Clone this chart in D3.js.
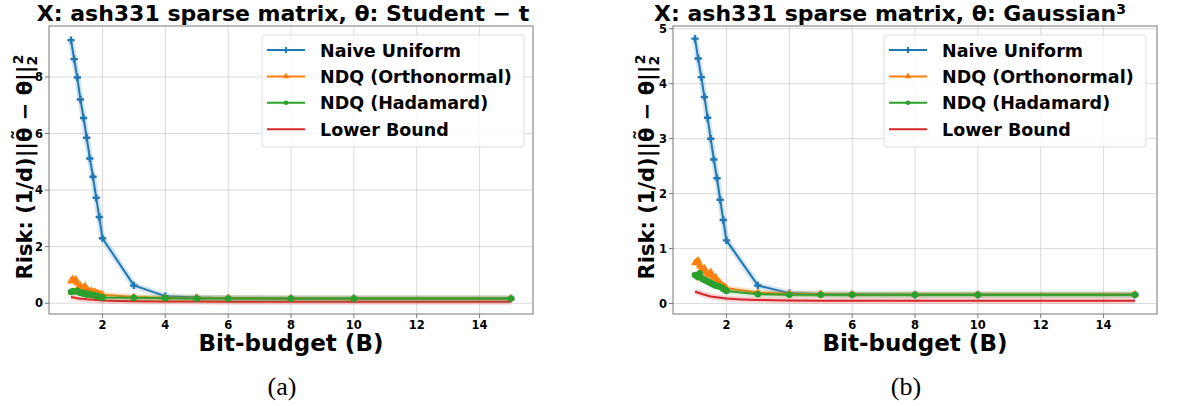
<!DOCTYPE html>
<html>
<head>
<meta charset="utf-8">
<script src="https://cdnjs.cloudflare.com/ajax/libs/d3/7.8.5/d3.min.js"></script>
<style>
  body { margin: 0; background: #fff; }
  text { font-family: "DejaVu Sans", sans-serif; font-weight: bold; }
</style>
</head>
<body>
<svg id="chart" width="1182" height="406"></svg>
<script>
// bit budgets
var xNaive = [1, 1.1, 1.2, 1.3, 1.4, 1.5, 1.6, 1.7, 1.8, 1.9, 2, 3, 4, 5, 6, 8, 10, 15];
var xNdq = [1, 1.05, 1.1, 1.15, 1.2, 1.25, 1.3, 1.35, 1.4, 1.45, 1.5, 1.55, 1.6, 1.65, 1.7, 1.75, 1.8, 1.85, 1.9, 1.95, 2, 3, 4, 5, 6, 8, 10, 15];
var xBound = [1, 1.25, 1.5, 1.75, 2, 2.5, 3, 4, 5, 6, 8, 10, 15];

// (a) Student-t
var naiveA = [9.3, 8.63, 7.98, 7.2, 6.55, 5.85, 5.12, 4.47, 3.73, 3.05, 2.3, 0.63, 0.25, 0.2, 0.18, 0.17, 0.17, 0.17];
var orthoA = [0.78, 0.85, 0.80, 0.84, 0.72, 0.58, 0.62, 0.52, 0.55, 0.60, 0.48, 0.45, 0.40, 0.44, 0.38, 0.40, 0.35, 0.36, 0.33, 0.31, 0.30, 0.22, 0.19, 0.18, 0.18, 0.17, 0.17, 0.17];
var hadaA = [0.40, 0.42, 0.43, 0.42, 0.44, 0.40, 0.36, 0.38, 0.34, 0.35, 0.30, 0.33, 0.30, 0.29, 0.30, 0.27, 0.26, 0.25, 0.23, 0.21, 0.20, 0.19, 0.18, 0.17, 0.17, 0.17, 0.17, 0.17];
var boundA = [0.22, 0.17, 0.14, 0.12, 0.10, 0.08, 0.07, 0.06, 0.06, 0.055, 0.055, 0.055, 0.055];

// (b) Gaussian^3
var naiveB = [4.82, 4.46, 4.12, 3.76, 3.38, 3.0, 2.62, 2.28, 1.89, 1.52, 1.15, 0.33, 0.19, 0.17, 0.165, 0.16, 0.16, 0.16];
var orthoB = [0.74, 0.76, 0.78, 0.70, 0.66, 0.62, 0.64, 0.58, 0.55, 0.52, 0.57, 0.50, 0.46, 0.48, 0.42, 0.40, 0.37, 0.34, 0.32, 0.30, 0.28, 0.20, 0.18, 0.17, 0.165, 0.165, 0.165, 0.165];
var hadaB = [0.52, 0.50, 0.48, 0.55, 0.47, 0.44, 0.43, 0.42, 0.40, 0.39, 0.37, 0.36, 0.34, 0.33, 0.32, 0.32, 0.30, 0.29, 0.27, 0.25, 0.23, 0.17, 0.16, 0.16, 0.16, 0.16, 0.16, 0.16];
var boundB = [0.22, 0.17, 0.13, 0.11, 0.09, 0.075, 0.065, 0.055, 0.05, 0.05, 0.05, 0.05, 0.05];

var xTicks = [2, 4, 6, 8, 10, 12, 14];
var yTicksA = [0, 2, 4, 6, 8];
var yTicksB = [0, 1, 2, 3, 4, 5];
var legendNames = ["Naive Uniform", "NDQ (Orthonormal)", "NDQ (Hadamard)", "Lower Bound"];
var colors = ["#1f77b4", "#ff7f0e", "#2ca02c", "#d62728"];

var svg = d3.select("#chart");

function drawPanel(cfg) {
  var g = svg.append("g");
  var x = d3.scaleLinear().domain([0.3, 15.7]).range([cfg.left, cfg.right]);
  var y = d3.scaleLinear().domain(cfg.ydom).range([cfg.bottom, cfg.top]);

  // grid
  g.selectAll(".gx").data(xTicks).enter().append("line")
    .attr("x1", d => x(d)).attr("x2", d => x(d))
    .attr("y1", cfg.top).attr("y2", cfg.bottom)
    .attr("stroke", "#b0b0b0").attr("stroke-opacity", 0.6).attr("stroke-width", 0.8);
  g.selectAll(".gy").data(cfg.yticks).enter().append("line")
    .attr("x1", cfg.left).attr("x2", cfg.right)
    .attr("y1", d => y(d)).attr("y2", d => y(d))
    .attr("stroke", "#b0b0b0").attr("stroke-opacity", 0.6).attr("stroke-width", 0.8);

  var series = [
    { xs: xNaive, ys: cfg.naive, c: colors[0], m: "plus" },
    { xs: xNdq, ys: cfg.ortho, c: colors[1], m: "tri" },
    { xs: xNdq, ys: cfg.hada, c: colors[2], m: "circ" },
    { xs: xBound, ys: cfg.bound, c: colors[3], m: null }
  ];
  var line = d3.line().x(d => x(d[0])).y(d => y(d[1]));

  // draw lower bound first so others sit on top like the reference
  var order = [3, 0, 1, 2];
  order.forEach(function (k) {
    var s = series[k];
    var pts = s.xs.map((v, i) => [v, s.ys[i]]);
    // faint halo band
    g.append("path").datum(pts).attr("d", line)
      .attr("fill", "none").attr("stroke", s.c).attr("stroke-opacity", 0.2)
      .attr("stroke-width", 6).attr("stroke-linejoin", "round");
    g.append("path").datum(pts).attr("d", line)
      .attr("fill", "none").attr("stroke", s.c).attr("stroke-width", 2)
      .attr("stroke-linejoin", "round");
    if (s.m) drawMarkers(g, pts.map(p => [x(p[0]), y(p[1])]), s.m, s.c);
  });

  // spines
  g.append("rect").attr("x", cfg.left).attr("y", cfg.top)
    .attr("width", cfg.right - cfg.left).attr("height", cfg.bottom - cfg.top)
    .attr("fill", "none").attr("stroke", "#777").attr("stroke-width", 1);

  // ticks
  g.selectAll(".tx").data(xTicks).enter().append("line")
    .attr("x1", d => x(d)).attr("x2", d => x(d))
    .attr("y1", cfg.bottom).attr("y2", cfg.bottom + 4).attr("stroke", "#777");
  g.selectAll(".txl").data(xTicks).enter().append("text")
    .attr("x", d => x(d)).attr("y", 328.5)
    .attr("text-anchor", "middle").attr("font-size", 11.5).text(d => d);
  g.selectAll(".ty").data(cfg.yticks).enter().append("line")
    .attr("x1", cfg.left - 4).attr("x2", cfg.left)
    .attr("y1", d => y(d)).attr("y2", d => y(d)).attr("stroke", "#777");
  g.selectAll(".tyl").data(cfg.yticks).enter().append("text")
    .attr("x", cfg.left - 6).attr("y", d => y(d) + 4.2)
    .attr("text-anchor", "end").attr("font-size", 11.5).text(d => d);

  // title
  var t = g.append("text").attr("x", cfg.titleX).attr("y", 20.5)
    .attr("text-anchor", "middle").attr("font-size", 22).text(cfg.title);
  if (cfg.titleSup) t.append("tspan").attr("dy", -7).attr("font-size", 14).text(cfg.titleSup);

  // axis labels
  g.append("text").attr("x", (cfg.left + cfg.right) / 2).attr("y", 350.5)
    .attr("text-anchor", "middle").attr("font-size", 23).text("Bit-budget (B)");
  var yl = g.append("text")
    .attr("transform", "translate(" + cfg.ylabX + ",167) rotate(-90)")
    .attr("text-anchor", "middle").attr("font-size", 21);
  yl.append("tspan").text("Risk: (1/d)||\u03B8\u0303 \u2212 \u03B8||");
  yl.append("tspan").attr("dy", 5).attr("font-size", 14).text("2");
  yl.append("tspan").attr("dx", -8.5).attr("dy", -14).attr("font-size", 14).text("2");

  // caption
  svg.append("text").attr("x", cfg.capX).attr("y", 395)
    .attr("text-anchor", "middle").attr("font-size", 26)
    .style("font-family", "'Liberation Serif', serif").style("font-weight", "normal")
    .text(cfg.caption);

  // legend
  var lg = g.append("g");
  lg.append("rect").attr("x", cfg.legX).attr("y", 35).attr("width", 262).attr("height", 112)
    .attr("rx", 3).attr("fill", "#fff").attr("fill-opacity", 0.8)
    .attr("stroke", "#ddd").attr("stroke-width", 1);
  legendNames.forEach(function (name, i) {
    var yy = 50 + i * 26.4;
    lg.append("line").attr("x1", cfg.legX + 5).attr("x2", cfg.legX + 43)
      .attr("y1", yy).attr("y2", yy).attr("stroke", colors[i]).attr("stroke-width", 2);
    var m = series[i].m;
    if (m) drawMarkers(lg, [[cfg.legX + 24, yy]], m, colors[i], 0.7);
    lg.append("text").attr("x", cfg.legX + 58).attr("y", yy + 6.5)
      .attr("font-size", 17.5).text(name);
  });
}

function drawMarkers(g, pts, kind, color, sc) {
  sc = sc || 1;
  if (kind === "plus") {
    var p = d3.symbol().type(d3.symbolCross).size(30 * sc);
    g.selectAll(null).data(pts).enter().append("path")
      .attr("d", p).attr("transform", d => "translate(" + d[0] + "," + d[1] + ")")
      .attr("fill", color);
  } else if (kind === "tri") {
    var t = d3.symbol().type(d3.symbolTriangle).size(28 * sc);
    g.selectAll(null).data(pts).enter().append("path")
      .attr("d", t).attr("transform", d => "translate(" + d[0] + "," + d[1] + ")")
      .attr("fill", color);
  } else {
    g.selectAll(null).data(pts).enter().append("circle")
      .attr("cx", d => d[0]).attr("cy", d => d[1]).attr("r", 3.3 * sc)
      .attr("fill", color);
  }
}

drawPanel({
  left: 49, right: 533, top: 26, bottom: 314, ydom: [-0.38, 9.8], yticks: yTicksA,
  naive: naiveA, ortho: orthoA, hada: hadaA, bound: boundA,
  title: "X: ash331 sparse matrix, \u03B8: Student \u2212 t", titleX: 283,
  ylabX: 32, capX: 282, caption: "(a)", legX: 262
});
drawPanel({
  left: 673, right: 1157, top: 26, bottom: 314, ydom: [-0.19, 5.05], yticks: yTicksB,
  naive: naiveB, ortho: orthoB, hada: hadaB, bound: boundB,
  title: "X: ash331 sparse matrix, \u03B8: Gaussian", titleSup: "3", titleX: 890,
  ylabX: 654, capX: 906, caption: "(b)", legX: 884
});
</script>
</body>
</html>
